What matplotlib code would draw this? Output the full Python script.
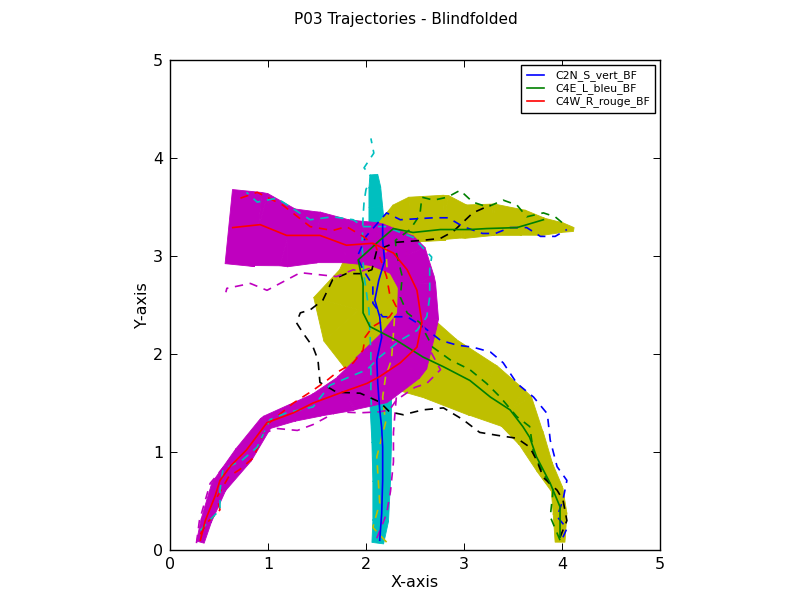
import numpy as np
import matplotlib
matplotlib.use('Agg')
import matplotlib.pyplot as plt
from matplotlib.patches import Polygon
from matplotlib.collections import PatchCollection

# ---------------- data ----------------
labels = ['C2N_S_vert_BF', 'C4E_L_bleu_BF', 'C4W_R_rouge_BF']

# mean trajectories
c2n_mean_x = [2.14, 2.16, 2.17, 2.17, 2.16, 2.14, 2.12, 2.11, 2.16, 2.14, 2.09, 2.13, 2.19, 2.17, 2.17]
c2n_mean_y = [0.10, 0.37, 0.71, 1.05, 1.25, 1.43, 1.70, 1.94, 2.17, 2.38, 2.55, 2.75, 2.95, 3.16, 3.32]

c4e_mean_x = [3.98, 3.98, 3.88, 3.74, 3.67, 3.60, 3.47, 3.27, 3.06, 2.79, 2.58, 2.31, 2.04, 1.97, 1.97,
              1.92, 2.01, 2.14, 2.28, 2.48, 2.76, 3.06, 3.23, 3.54, 3.71, 3.81]
c4e_mean_y = [0.13, 0.44, 0.68, 0.95, 1.15, 1.26, 1.43, 1.56, 1.73, 1.87, 1.97, 2.14, 2.28, 2.42, 2.72,
              2.96, 3.04, 3.16, 3.28, 3.24, 3.27, 3.27, 3.28, 3.29, 3.34, 3.37]

c4w_mean_x = [0.31, 0.36, 0.46, 0.51, 0.62, 0.78, 0.99, 1.26, 1.46, 1.73, 2.01, 2.14, 2.35, 2.52, 2.57,
              2.52, 2.42, 2.28, 2.07, 1.80, 1.53, 1.19, 0.92, 0.64]
c4w_mean_y = [0.10, 0.30, 0.55, 0.71, 0.86, 1.02, 1.30, 1.40, 1.50, 1.60, 1.70, 1.77, 1.91, 2.07, 2.32,
              2.65, 2.86, 3.03, 3.13, 3.11, 3.21, 3.21, 3.32, 3.29]

# spread bands (centre line and half width)
c2n_band_x = [2.12, 2.15, 2.16, 2.16, 2.15, 2.14, 2.13, 2.12, 2.11, 2.10, 2.09, 2.08]
c2n_band_y = [0.07, 0.30, 0.70, 1.10, 1.50, 2.00, 2.50, 3.00, 3.30, 3.50, 3.70, 3.83]
c2n_band_w = [0.06, 0.08, 0.09, 0.10, 0.11, 0.11, 0.10, 0.09, 0.08, 0.07, 0.06, 0.04]

c4e_band_x = [3.98, 3.98, 3.95, 3.82, 3.68, 3.50, 3.19, 2.76, 2.45, 2.15, 1.93, 2.02, 2.22, 2.45,
              2.80, 3.00, 3.30, 3.60, 3.80, 4.00, 4.12]
c4e_band_y = [0.08, 0.37, 0.62, 0.85, 1.15, 1.45, 1.63, 1.85, 2.02, 2.20, 2.45, 2.78, 3.10, 3.37,
              3.39, 3.35, 3.37, 3.34, 3.30, 3.29, 3.27]
c4e_band_w = [0.05, 0.07, 0.06, 0.09, 0.14, 0.22, 0.29, 0.34, 0.42, 0.50, 0.48, 0.30, 0.22, 0.23,
              0.23, 0.17, 0.16, 0.13, 0.09, 0.05, 0.02]

c4w_band_x = [0.31, 0.37, 0.50, 0.75, 0.98, 1.25, 1.50, 1.80, 2.08, 2.35, 2.53, 2.52, 2.40, 2.10,
              1.80, 1.50, 1.20, 0.90, 0.60]
c4w_band_y = [0.08, 0.30, 0.65, 0.97, 1.30, 1.40, 1.48, 1.60, 1.75, 1.98, 2.35, 2.72, 3.00, 3.12,
              3.15, 3.19, 3.19, 3.27, 3.30]
c4w_band_w = [0.04, 0.055, 0.08, 0.10, 0.07, 0.09, 0.12, 0.19, 0.28, 0.30, 0.21, 0.19, 0.22, 0.22,
              0.22, 0.26, 0.30, 0.38, 0.38]

# individual trials (dashed)
c2n_t1_x = [2.10, 2.08, 2.05, 2.05, 2.03, 1.98, 1.96, 1.97, 1.98, 2.00, 2.06, 1.98, 2.08, 2.05]
c2n_t1_y = [0.10, 0.80, 1.60, 2.00, 2.45, 2.80, 3.10, 3.40, 3.55, 3.68, 3.80, 3.90, 4.05, 4.20]
c2n_t2_x = [2.21, 2.07, 2.14, 2.11, 2.20, 2.17, 2.20, 2.26, 2.28, 2.30, 2.22, 2.20]
c2n_t2_y = [0.08, 0.23, 0.48, 0.95, 1.30, 1.56, 1.77, 1.94, 2.21, 2.50, 2.80, 3.10]
c2n_t3_x = [2.11, 2.21, 2.25, 2.28, 2.28, 2.30, 2.33, 2.35, 2.35, 2.30, 2.25]
c2n_t3_y = [0.12, 0.37, 0.60, 0.90, 1.20, 1.45, 1.80, 2.20, 2.60, 3.00, 3.30]

c4e_t1_x = [3.98, 3.88, 3.91, 3.81, 3.71, 3.67, 3.54, 3.37, 3.23, 3.06, 2.86, 2.68, 2.55, 2.42, 2.35,
            2.37, 2.31, 2.30, 2.45, 2.55, 2.57, 2.69, 2.83, 2.96, 3.09, 3.24, 3.40, 3.54, 3.64, 3.81,
            3.93, 4.05]
c4e_t1_y = [0.10, 0.34, 0.61, 0.78, 0.99, 1.26, 1.36, 1.56, 1.70, 1.84, 1.94, 2.07, 2.32, 2.42, 2.58,
            2.79, 3.03, 3.16, 3.27, 3.42, 3.60, 3.57, 3.60, 3.67, 3.55, 3.50, 3.57, 3.52, 3.40, 3.44,
            3.40, 3.30]
c4e_t2_x = [4.01, 4.05, 3.95, 4.01, 4.05, 3.95, 3.88, 3.85, 3.71, 3.54, 3.40, 3.27, 3.09, 2.93, 2.76,
            2.58, 2.42, 2.17, 2.07, 2.07, 1.97, 1.91, 2.00, 2.21, 2.35, 2.69, 2.84, 2.99, 3.19, 3.32,
            3.47, 3.64, 3.78, 3.93, 4.05]
c4e_t2_y = [0.13, 0.22, 0.34, 0.51, 0.71, 0.85, 1.12, 1.39, 1.56, 1.70, 1.91, 2.02, 2.07, 2.09, 2.14,
            2.28, 2.38, 2.38, 2.52, 2.70, 2.86, 2.99, 3.20, 3.44, 3.37, 3.39, 3.39, 3.30, 3.23, 3.23,
            3.29, 3.29, 3.20, 3.20, 3.27]
c4e_t3_x = [3.98, 4.05, 4.01, 3.95, 3.81, 3.74, 3.67, 3.54, 3.34, 3.16, 2.99, 2.79, 2.58, 2.38, 2.24,
            2.14, 1.94, 1.70, 1.53, 1.51, 1.46, 1.36, 1.29, 1.33, 1.43, 1.56, 1.66, 1.80, 1.94, 2.06,
            2.11, 2.31, 2.58, 2.76, 2.89, 3.09, 3.27]
c4e_t3_y = [0.13, 0.30, 0.51, 0.61, 0.74, 0.92, 1.05, 1.14, 1.17, 1.20, 1.33, 1.45, 1.43, 1.38, 1.41,
            1.51, 1.60, 1.61, 1.71, 1.94, 2.07, 2.21, 2.32, 2.42, 2.45, 2.55, 2.76, 2.82, 2.82, 2.86,
            3.06, 3.14, 3.16, 3.18, 3.25, 3.44, 3.52]

c4w_t1_x = [0.31, 0.38, 0.51, 0.48, 0.60, 0.71, 0.85, 0.99, 1.26, 1.46, 1.60, 1.70, 1.87, 1.97, 1.99,
            2.07, 2.24, 2.31, 2.24, 2.21, 2.14, 2.10, 1.97, 1.80, 1.66, 1.43, 1.15, 0.89, 0.66]
c4w_t1_y = [0.16, 0.28, 0.41, 0.54, 0.75, 0.82, 0.94, 1.28, 1.50, 1.63, 1.73, 1.81, 1.91, 2.04, 2.17,
            2.28, 2.38, 2.48, 2.62, 2.79, 2.99, 3.10, 3.20, 3.30, 3.26, 3.30, 3.52, 3.65, 3.57]
c4w_t2_x = [0.31, 0.40, 0.51, 0.51, 0.54, 0.74, 0.89, 1.02, 1.19, 1.46, 1.63, 1.84, 2.01, 2.14, 2.35,
            2.52, 2.62, 2.65, 2.65, 2.67, 2.48, 2.20, 1.97, 1.87, 1.66, 1.43, 1.09, 0.89, 0.78]
c4w_t2_y = [0.20, 0.30, 0.41, 0.61, 0.82, 0.92, 1.05, 1.33, 1.40, 1.46, 1.68, 1.77, 1.84, 1.97, 2.14,
            2.24, 2.38, 2.58, 2.86, 2.99, 3.19, 3.30, 3.30, 3.37, 3.40, 3.37, 3.59, 3.55, 3.65]
c4w_t3_x = [0.27, 0.30, 0.41, 0.65, 0.84, 1.09, 1.30, 1.46, 1.70, 1.94, 2.14, 2.24, 2.31, 2.50, 2.62,
            2.76, 2.62, 2.55, 2.45, 2.25, 1.94, 1.87, 1.70, 1.33, 0.99, 0.82, 0.58, 0.57]
c4w_t3_y = [0.07, 0.30, 0.68, 0.97, 1.15, 1.24, 1.22, 1.28, 1.41, 1.40, 1.41, 1.43, 1.53, 1.66, 1.70,
            1.84, 2.10, 2.50, 2.80, 2.95, 2.84, 2.86, 2.79, 2.83, 2.65, 2.72, 2.67, 2.63]

# ---------------- plotting ----------------
plt.rcParams['font.family'] = ['DejaVu Sans']

fig = plt.figure(figsize=(8.12, 6.12), dpi=100, facecolor='white')
ax = fig.add_axes([170/812, 62/612, 490/812, 490/612])


def draw_band(ax, xs, ys, ws, color, z):
    xs = np.asarray(xs, float)
    ys = np.asarray(ys, float)
    ws = np.asarray(ws, float)
    n = len(xs)
    normals = []
    patches = []
    for i in range(n - 1):
        dx, dy = xs[i + 1] - xs[i], ys[i + 1] - ys[i]
        ln = np.hypot(dx, dy)
        nx, ny = -dy / ln, dx / ln
        normals.append((nx, ny))
        quad = [[xs[i] + nx * ws[i], ys[i] + ny * ws[i]],
                [xs[i + 1] + nx * ws[i + 1], ys[i + 1] + ny * ws[i + 1]],
                [xs[i + 1] - nx * ws[i + 1], ys[i + 1] - ny * ws[i + 1]],
                [xs[i] - nx * ws[i], ys[i] - ny * ws[i]]]
        patches.append(Polygon(quad, closed=True))
    # bevel joins between consecutive segments
    for i in range(1, n - 1):
        (ax_, ay_), (bx_, by_) = normals[i - 1], normals[i]
        for s in (1, -1):
            tri = [[xs[i], ys[i]],
                   [xs[i] + s * ax_ * ws[i], ys[i] + s * ay_ * ws[i]],
                   [xs[i] + s * bx_ * ws[i], ys[i] + s * by_ * ws[i]]]
            patches.append(Polygon(tri, closed=True))
    pc = PatchCollection(patches, facecolor=color, edgecolor=color, linewidth=0.6, zorder=z)
    ax.add_collection(pc)


draw_band(ax, c2n_band_x, c2n_band_y, c2n_band_w, (0, 0.75, 0.75), 1)
draw_band(ax, c4e_band_x, c4e_band_y, c4e_band_w, (0.75, 0.75, 0), 2)
draw_band(ax, c4w_band_x, c4w_band_y, c4w_band_w, (0.75, 0, 0.75), 3)

dash = (5.0, 4.0)
lw = 1.2
trials = [
    (c2n_t1_x, c2n_t1_y, (0, 0.75, 0.75)),
    (c2n_t2_x, c2n_t2_y, (0.75, 0.75, 0)),
    (c2n_t3_x, c2n_t3_y, (0.75, 0, 0.75)),
    (c4e_t1_x, c4e_t1_y, (0, 0.5, 0)),
    (c4e_t2_x, c4e_t2_y, (0, 0, 1)),
    (c4e_t3_x, c4e_t3_y, (0, 0, 0)),
    (c4w_t1_x, c4w_t1_y, (1, 0, 0)),
    (c4w_t2_x, c4w_t2_y, (0, 0.75, 0.75)),
    (c4w_t3_x, c4w_t3_y, (0.75, 0, 0.75)),
]
for tx, ty, col in trials:
    ax.plot(tx, ty, color=col, lw=lw, dashes=dash, zorder=4)

ax.plot(c2n_mean_x, c2n_mean_y, color=(0, 0, 1), lw=lw, zorder=5, label=labels[0])
ax.plot(c4e_mean_x, c4e_mean_y, color=(0, 0.5, 0), lw=lw, zorder=5, label=labels[1])
ax.plot(c4w_mean_x, c4w_mean_y, color=(1, 0, 0), lw=lw, zorder=5, label=labels[2])

ax.set_xlim(0, 5)
ax.set_ylim(0, 5)
ax.set_xticks(range(6))
ax.set_yticks(range(6))
ax.tick_params(direction='in', length=5, width=0.7, top=True, right=True,
               labelsize=11.5, pad=5)
for s in ax.spines.values():
    s.set_linewidth(1.0)
ax.set_xlabel('X-axis', fontsize=11.5, labelpad=2)
ax.set_ylabel('Y-axis', fontsize=11.5, labelpad=2)
fig.suptitle('P03 Trajectories - Blindfolded', fontsize=11, y=0.98)

leg = ax.legend(loc='upper right', fontsize=7.8, fancybox=False, framealpha=1,
                edgecolor='black', borderaxespad=0.45, handlelength=1.6,
                borderpad=0.5, labelspacing=0.2, handletextpad=1.0)
leg.get_frame().set_linewidth(1.0)

fig.savefig('out.png', dpi=100, facecolor='white')
